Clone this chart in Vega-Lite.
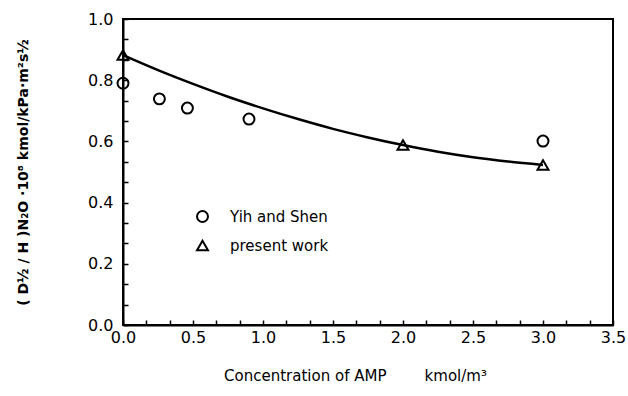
{
  "$schema": "https://vega.github.io/schema/vega-lite/v6.json",
  "width": 490,
  "height": 306,
  "autosize": {"type": "none"},
  "padding": {"left": 123, "top": 19, "right": 15, "bottom": 71},
  "background": "white",
  "config": {
    "view": {"stroke": "black", "strokeWidth": 2},
    "axis": {
      "grid": false,
      "domainColor": "black",
      "domainWidth": 2,
      "tickColor": "black",
      "tickWidth": 1.5,
      "labelColor": "black",
      "titleColor": "black",
      "labelFont": "DejaVu Sans",
      "titleFont": "DejaVu Sans",
      "labelFontSize": 16,
      "labelFontWeight": "normal"
    },
    "legend": {"labelFont": "DejaVu Sans"},
    "text": {"font": "DejaVu Sans"}
  },
  "datasets": {
    "points": [
      {"conc": 0.0, "value": 0.79, "source": "Yih and Shen"},
      {"conc": 0.26, "value": 0.739, "source": "Yih and Shen"},
      {"conc": 0.46, "value": 0.709, "source": "Yih and Shen"},
      {"conc": 0.9, "value": 0.673, "source": "Yih and Shen"},
      {"conc": 3.0, "value": 0.601, "source": "Yih and Shen"},
      {"conc": 0.0, "value": 0.882, "source": "present work"},
      {"conc": 2.0, "value": 0.588, "source": "present work"},
      {"conc": 3.0, "value": 0.523, "source": "present work"}
    ],
    "curve": [
      {"conc": 0.0, "value": 0.882},
      {"conc": 0.25, "value": 0.833},
      {"conc": 0.5, "value": 0.788},
      {"conc": 0.75, "value": 0.746},
      {"conc": 1.0, "value": 0.708},
      {"conc": 1.25, "value": 0.673},
      {"conc": 1.5, "value": 0.641},
      {"conc": 1.75, "value": 0.613},
      {"conc": 2.0, "value": 0.588},
      {"conc": 2.25, "value": 0.566},
      {"conc": 2.5, "value": 0.548},
      {"conc": 2.75, "value": 0.534},
      {"conc": 3.0, "value": 0.523}
    ]
  },
  "resolve": {"scale": {"x": "independent", "y": "independent"}, "axis": {"x": "independent", "y": "independent"}},
  "layer": [
    {
      "data": {"name": "curve"},
      "mark": {"type": "line", "color": "black", "strokeWidth": 2.5, "interpolate": "monotone"},
      "encoding": {
        "x": {
          "field": "conc",
          "type": "quantitative",
          "scale": {"domain": [0, 3.5], "nice": false, "zero": false},
          "axis": {
            "orient": "bottom",
            "title": "Concentration of AMP\u00a0\u00a0\u00a0\u00a0\u00a0\u00a0\u00a0\u00a0kmol/m\u00b3",
            "titleFontSize": 15,
            "titleFontWeight": "normal",
            "titleX": 232,
            "titleY": 50,
            "titleBaseline": "middle",
            "values": [0, 0.5, 1, 1.5, 2, 2.5, 3, 3.5],
            "format": ".1f",
            "ticks": false,
            "labelPadding": 4,
            "labelFlush": false,
            "labelOverlap": false
          }
        },
        "y": {
          "field": "value",
          "type": "quantitative",
          "scale": {"domain": [0, 1], "nice": false, "zero": false},
          "axis": {
            "orient": "left",
            "title": "( D\u00bd / H )N\u2082O \u00b710\u2078 kmol/kPa\u00b7m\u00b2s\u00bd",
            "titleFontSize": 14,
            "titleFontWeight": "bold",
            "titlePadding": 57,
            "values": [0, 0.2, 0.4, 0.6, 0.8, 1],
            "format": ".1f",
            "ticks": false,
            "labelPadding": 10,
            "labelFlush": false,
            "labelOverlap": false
          }
        }
      }
    },
    {
      "data": {"name": "points"},
      "mark": {"type": "point", "filled": false, "color": "black", "strokeWidth": 2, "size": 120, "opacity": 1},
      "encoding": {
        "x": {
          "field": "conc",
          "type": "quantitative",
          "scale": {"domain": [0, 3.5], "nice": false, "zero": false},
          "axis": {
            "orient": "bottom",
            "title": null,
            "labels": false,
            "domain": false,
            "values": [0, 0.16667, 0.33333, 0.5, 0.66667, 0.83333, 1, 1.16667, 1.33333, 1.5, 1.66667, 1.83333, 2, 2.16667, 2.33333, 2.5, 2.66667, 2.83333, 3, 3.16667, 3.33333, 3.5],
            "ticks": true,
            "tickSize": -5
          }
        },
        "y": {
          "field": "value",
          "type": "quantitative",
          "scale": {"domain": [0, 1], "nice": false, "zero": false},
          "axis": {
            "orient": "left",
            "title": null,
            "labels": false,
            "domain": false,
            "values": [0, 0.06667, 0.13333, 0.2, 0.26667, 0.33333, 0.4, 0.46667, 0.53333, 0.6, 0.66667, 0.73333, 0.8, 0.86667, 0.93333, 1],
            "ticks": true,
            "tickSize": -5
          }
        },
        "shape": {
          "field": "source",
          "type": "nominal",
          "scale": {"domain": ["Yih and Shen", "present work"], "range": ["circle", "triangle-up"]},
          "legend": {
            "orient": "none",
            "legendX": 72,
            "legendY": 190,
            "title": null,
            "padding": 0,
            "symbolSize": 120,
            "symbolStrokeWidth": 2,
            "symbolStrokeColor": "black",
            "symbolFillColor": "transparent",
            "labelFontSize": 15,
            "labelColor": "black",
            "labelOffset": 20,
            "rowPadding": 10
          }
        }
      }
    },
    {
      "mark": {"type": "text", "text": "t = 40 \u00b0C", "fontSize": 14, "fontWeight": "bold", "color": "black"},
      "encoding": {
        "x": {"datum": 2.72, "type": "quantitative", "scale": {"domain": [0, 3.5], "nice": false, "zero": false}, "axis": null},
        "y": {"datum": 0.86, "type": "quantitative", "scale": {"domain": [0, 1], "nice": false, "zero": false}, "axis": null}
      }
    }
  ]
}
